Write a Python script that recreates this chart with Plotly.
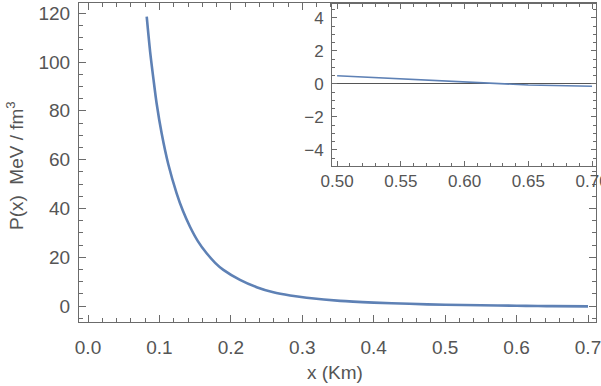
import plotly.graph_objects as go

# Data
x_vals = [0.0822, 0.0870, 0.0915, 0.0961, 0.1031, 0.1125, 0.1241, 0.1330, 0.1428,
          0.1540, 0.1661, 0.1780, 0.1895, 0.2128, 0.2361, 0.2595, 0.2830, 0.3060,
          0.3530, 0.4000, 0.4500, 0.5000, 0.5500, 0.6000, 0.6300, 0.6500, 0.7000]
p_vals = [118.6, 104.2, 93.3, 83.0, 70.8, 58.0, 46.2, 38.9, 32.5,
          26.5, 21.6, 17.7, 14.8, 10.7, 7.7, 5.6, 4.3, 3.4,
          2.1, 1.4, 0.9, 0.5, 0.3, 0.1, 0.0, -0.06, -0.14]

main_xticks = [0.0, 0.1, 0.2, 0.3, 0.4, 0.5, 0.6, 0.7]
main_yticks = [0, 20, 40, 60, 80, 100, 120]
inset_xticks = [0.50, 0.55, 0.60, 0.65, 0.70]
inset_yticks = [-4, -2, 0, 2, 4]

BLUE = "#5E81B5"
AX = "#6b6b6b"
TXT = "#555555"
FONT = "Liberation Sans"

inset_x = [x for x in x_vals if x >= 0.5]
inset_p = [p for x, p in zip(x_vals, p_vals) if x >= 0.5]

fig = go.Figure()
fig.add_trace(go.Scatter(x=x_vals, y=p_vals, mode="lines",
                         line=dict(color=BLUE, width=2.6, shape="spline", smoothing=0.8),
                         xaxis="x", yaxis="y", showlegend=False))
fig.add_trace(go.Scatter(x=inset_x, y=inset_p, mode="lines",
                         line=dict(color=BLUE, width=1.6),
                         xaxis="x2", yaxis="y2", showlegend=False))

def common(size):
    return dict(showgrid=False, showline=True, linecolor=AX, linewidth=1,
                mirror="allticks", ticks="inside", tickcolor=AX, tickwidth=1,
                automargin=False, ticklabeloverflow="allow",
                tickfont=dict(family=FONT, size=size, color=TXT))

fig.update_layout(
    width=601, height=386,
    margin=dict(l=79, r=5, t=3, b=64, autoexpand=False),
    paper_bgcolor="white", plot_bgcolor="white",
    xaxis=dict(range=[-0.0126, 0.7112], tickvals=main_xticks, tickformat=".1f",
               ticklen=7, zeroline=False, domain=[0, 1], ticklabelstandoff=8,
               minor=dict(ticks="inside", dtick=0.02, tick0=0, ticklen=4, tickcolor=AX),
               **common(19)),
    yaxis=dict(range=[-6.56, 124.2], tickvals=main_yticks, ticklen=7, zeroline=False,
               domain=[0, 1], ticklabelstandoff=4,
               minor=dict(ticks="inside", dtick=5, tick0=0, ticklen=4, tickcolor=AX),
               **common(19)),
    xaxis2=dict(range=[0.496, 0.7031], tickvals=inset_xticks, tickformat=".2f",
                ticklen=5, zeroline=False, domain=[0.4894, 1.0], anchor="y2",
                ticklabelstandoff=0,
                minor=dict(ticks="inside", dtick=0.01, tick0=0.5, ticklen=3, tickcolor=AX),
                **common(17)),
    yaxis2=dict(range=[-4.97, 4.85], tickvals=inset_yticks, ticklen=5,
                zeroline=True, zerolinecolor="#555555", zerolinewidth=1,
                domain=[0.489, 0.997], anchor="x2", ticklabelstandoff=4,
                minor=dict(ticks="inside", dtick=0.5, tick0=0, ticklen=3, tickcolor=AX),
                **common(17)),
    annotations=[
        dict(text="x (Km)", xref="paper", yref="paper", x=0.495, y=-0.157,
             xanchor="center", yanchor="middle", showarrow=False,
             font=dict(family=FONT, size=19, color=TXT)),
        dict(text="P(x)\u00a0\u00a0MeV / fm<sup>3</sup>", xref="paper", yref="paper",
             x=-0.1238, y=0.492, xanchor="center", yanchor="middle", textangle=-90,
             showarrow=False, font=dict(family=FONT, size=19, color=TXT)),
    ],
)

fig.write_html("out.html", config={"displayModeBar": False},
               post_script="document.body.style.margin='0';document.body.style.padding='0';")
